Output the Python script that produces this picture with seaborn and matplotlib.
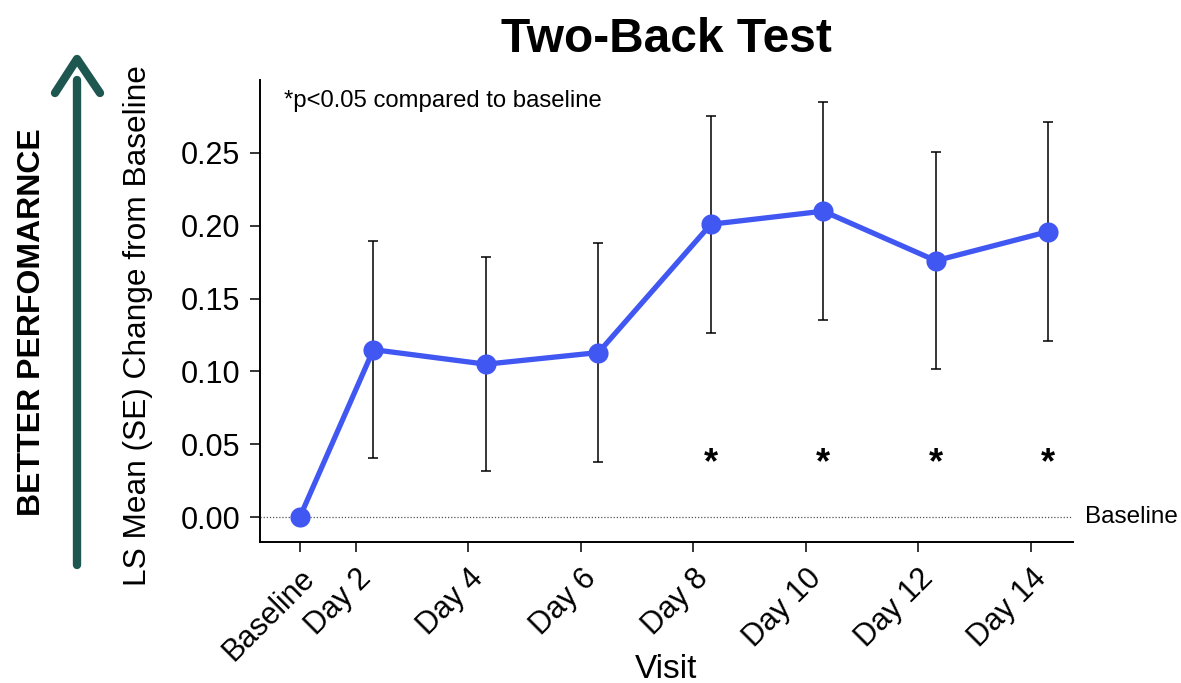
import numpy as np
import pandas as pd
import matplotlib
matplotlib.use("Agg")
import matplotlib.pyplot as plt
import matplotlib.transforms as mtransforms
from matplotlib.lines import Line2D
import seaborn as sns

# data
visit_labels = ["Baseline", "Day 2", "Day 4", "Day 6", "Day 8", "Day 10", "Day 12", "Day 14"]
visit_day = [1, 2, 4, 6, 8, 10, 12, 14]
ls_mean = [0.0, 0.115, 0.105, 0.113, 0.201, 0.210, 0.176, 0.196]
ls_se = [0.0, 0.0745, 0.0735, 0.075, 0.0745, 0.075, 0.0745, 0.075]
significant = [False, False, False, False, True, True, True, True]

df = pd.DataFrame({"visit": visit_labels, "day": visit_day,
                   "mean": ls_mean, "se": ls_se, "sig": significant})
# points sit a little right of their tick, except baseline
df["xpos"] = df["day"] + np.where(df["day"] > 1, 0.31, 0.0)

sns.set_style("ticks")
plt.rcParams["font.family"] = ["Liberation Sans", "DejaVu Sans"]
plt.rcParams["text.color"] = "black"
plt.rcParams["axes.labelcolor"] = "black"

fig = plt.figure(figsize=(11.81, 6.83), dpi=100)
ax = fig.add_axes([0.220, 0.2064, 0.6886, 0.6765])

blue = "#4157F2"
ax.axhline(0, color="#555555", lw=0.9, ls=(0, (1, 1.5)), zorder=1)

err = df[df["se"] > 0]
ax.errorbar(err["xpos"], err["mean"], yerr=err["se"], fmt="none",
            ecolor="black", elinewidth=1.1, capsize=3.6, capthick=1.1, zorder=2)

sns.lineplot(data=df, x="xpos", y="mean", ax=ax, color=blue, lw=3.8,
             marker="o", markersize=14.5, markeredgewidth=0, zorder=3)

for _, r in df[df["sig"]].iterrows():
    ax.text(r["xpos"], 0.037, "*", ha="center", va="center",
            fontsize=26, fontweight="bold")

ax.set_xlim(0.29, 14.75)
ax.set_ylim(-0.017, 0.30)
ax.set_yticks([0.0, 0.05, 0.10, 0.15, 0.20, 0.25])
ax.set_yticklabels(["0.00", "0.05", "0.10", "0.15", "0.20", "0.25"])
ax.set_xticks(visit_day)
ax.set_xticklabels(visit_labels, rotation=45, ha="right", va="top",
                   rotation_mode="anchor")

ax.tick_params(axis="both", labelsize=22, length=7, width=1.1, colors="black")
ax.tick_params(axis="y", pad=7)
shift = mtransforms.ScaledTranslation(0.0, -0.07, fig.dpi_scale_trans)
for lbl in ax.get_xticklabels():
    lbl.set_transform(lbl.get_transform() + shift)

for s in ["top", "right"]:
    ax.spines[s].set_visible(False)
for s in ["left", "bottom"]:
    ax.spines[s].set_linewidth(1.4)
    ax.spines[s].set_color("black")

ax.set_xlabel("Visit", fontsize=24, va="center")
ax.xaxis.set_label_coords(0.5, -0.275)
ax.set_ylabel("LS Mean (SE) Change from Baseline", fontsize=22.8, va="center")
ax.yaxis.set_label_coords(-0.150, 0.4675)
ax.set_title("Two-Back Test", fontsize=34.5, fontweight="bold", pad=20)

ax.text(0.03, 0.955, "*p<0.05 compared to baseline", transform=ax.transAxes,
        fontsize=17.2, ha="left", va="center")
ax.text(1.015, 0.0, "Baseline", transform=ax.get_yaxis_transform(),
        fontsize=17.5, ha="left", va="center", clip_on=False)

# "better performance" arrow on the far left
teal = "#1E5650"
fig.add_artist(Line2D([77 / 1181, 77 / 1181], [1 - 565 / 683, 1 - 80 / 683],
                      transform=fig.transFigure, color=teal, lw=6,
                      solid_capstyle="round"))
fig.add_artist(Line2D([55 / 1181, 77 / 1181, 100 / 1181],
                      [1 - 93 / 683, 1 - 59 / 683, 1 - 93 / 683],
                      transform=fig.transFigure, color=teal, lw=6,
                      solid_capstyle="round", solid_joinstyle="round"))
fig.text(32 / 1181, 1 - 322 / 683, "BETTER PERFOMARNCE", rotation=90,
         ha="center", va="center", fontsize=23, fontweight="bold")

fig.savefig("out.png", dpi=100)
